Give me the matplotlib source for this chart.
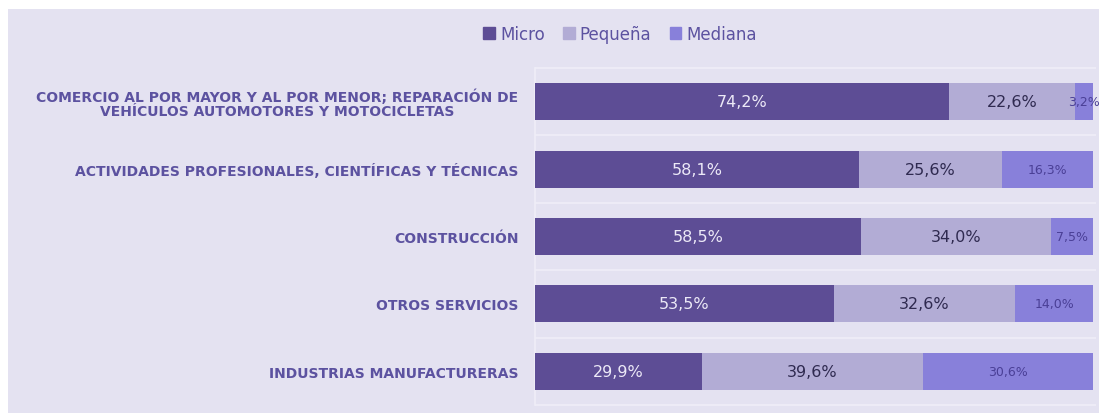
import numpy as np
import matplotlib.pyplot as plt
from matplotlib.patches import Rectangle, Patch

sectores = [
    'COMERCIO AL POR MAYOR Y AL POR MENOR; REPARACIÓN DE\nVEHÍCULOS AUTOMOTORES Y MOTOCICLETAS',
    'ACTIVIDADES PROFESIONALES, CIENTÍFICAS Y TÉCNICAS',
    'CONSTRUCCIÓN',
    'OTROS SERVICIOS',
    'INDUSTRIAS MANUFACTURERAS',
]
micro = [74.2, 58.1, 58.5, 53.5, 29.9]
pequena = [22.6, 25.6, 34.0, 32.6, 39.6]
mediana = [3.2, 16.3, 7.5, 14.0, 30.6]
series = ['Micro', 'Pequeña', 'Mediana']

fondo = '#e4e2f1'
linea = '#efeef8'
c_micro = '#5d4d95'
c_peq = '#b2acd5'
c_med = '#8880da'
c_txt = '#5c52a0'

fig = plt.figure(figsize=(10.99, 4.14), dpi=100)
fig.patch.set_facecolor('white')
# fondo lila (deja una franja blanca arriba y a la izquierda)
fig.patches.append(Rectangle((8/1099, 0), 1, 1 - 10/414, transform=fig.transFigure,
                             facecolor=fondo, edgecolor='none', zorder=-10))

ax = fig.add_axes([535/1099, 1 - 406/414, 558/1099, 337/414])
ax.set_facecolor(fondo)

y = np.arange(len(sectores))
h = 0.55
micro = np.array(micro)
pequena = np.array(pequena)
mediana = np.array(mediana)

ax.barh(y, micro, height=h, color=c_micro, zorder=3)
ax.barh(y, pequena, height=h, left=micro, color=c_peq, zorder=3)
ax.barh(y, mediana, height=h, left=micro + pequena, color=c_med, zorder=3)

for i in range(len(sectores)):
    ax.text(micro[i] / 2, y[i], f'{micro[i]:.1f}%'.replace('.', ','),
            ha='center', va='center', color='#ece9f7', fontsize=11.5, zorder=4)
    ax.text(micro[i] + pequena[i] / 2, y[i], f'{pequena[i]:.1f}%'.replace('.', ','),
            ha='center', va='center', color='#2f2a50', fontsize=11.5, zorder=4)
    ax.text(micro[i] + pequena[i] + mediana[i] / 2, y[i], f'{mediana[i]:.1f}%'.replace('.', ','),
            ha='center', va='center', color='#4a3f96', fontsize=9, zorder=4, clip_on=False)

ax.set_xlim(0, 100)
ax.set_ylim(4.5, -0.5)
ax.hlines(np.arange(-0.5, 5, 1), 0, 100.6, color=linea, lw=1.2, zorder=1, clip_on=False)
for s in ['top', 'right', 'bottom']:
    ax.spines[s].set_visible(False)
ax.spines['left'].set_color(linea)
ax.spines['left'].set_linewidth(1.2)
ax.set_xticks([])
ax.set_yticks(y)
ax.set_yticklabels(sectores, fontsize=10, fontweight='bold', color=c_txt,
                   multialignment='center', linespacing=1.0)
ax.tick_params(axis='y', length=0, pad=12)

handles = [Patch(color=c) for c in [c_micro, c_peq, c_med]]
leg = fig.legend(handles, series, loc='center', bbox_to_anchor=(620/1099, 1 - 35/414),
                 ncol=3, frameon=False, fontsize=12, handlelength=0.7, handleheight=0.7,
                 handletextpad=0.3, columnspacing=1.1)
for t in leg.get_texts():
    t.set_color(c_txt)

fig.savefig('out.png', dpi=100, facecolor=fig.get_facecolor())
